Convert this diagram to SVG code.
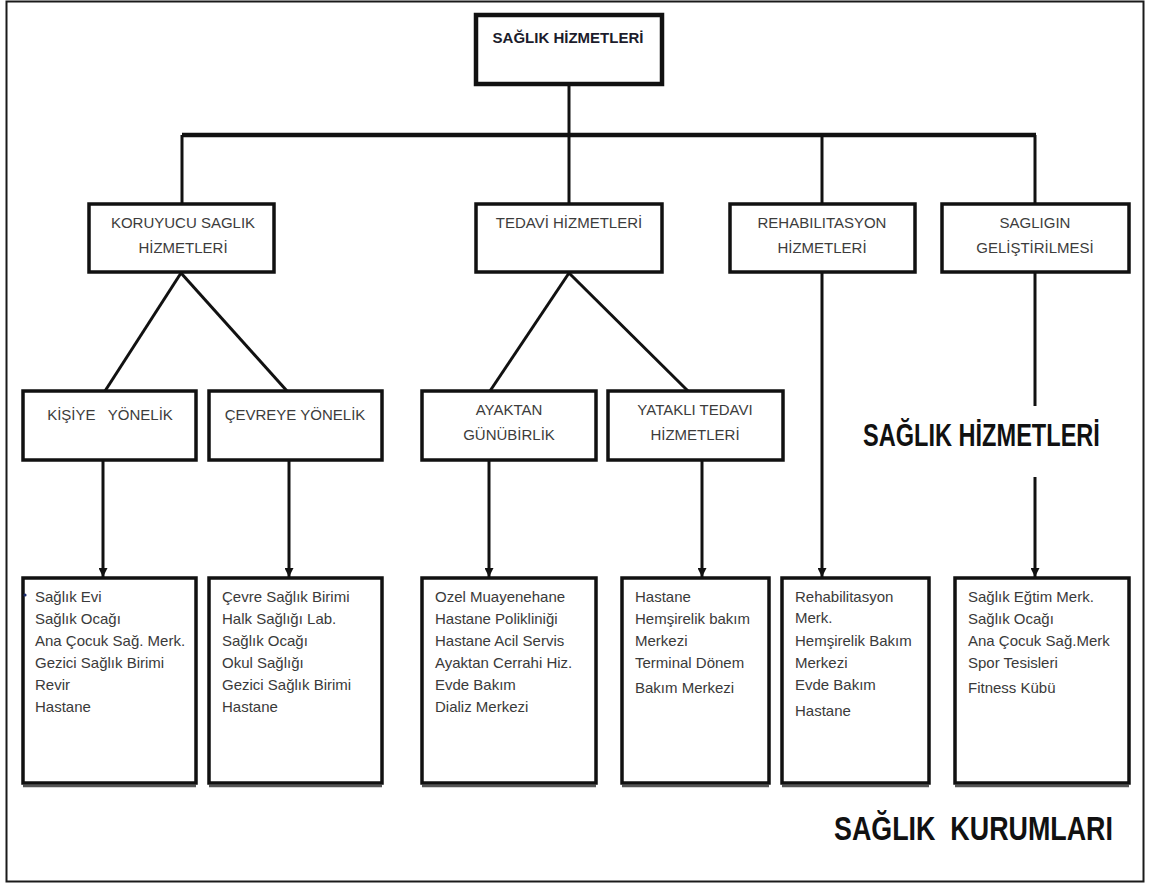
<svg xmlns="http://www.w3.org/2000/svg" width="1152" height="885" viewBox="0 0 1152 885">
<style>
  .frame{fill:#fff;stroke:#1a1a1a;stroke-width:2}
  .box{fill:#fff;stroke:#111;stroke-width:3.5}
  .shadow{fill:none;stroke:#555;stroke-width:2.5}
  .con{fill:none;stroke:#111;stroke-width:3}
  .bar{fill:none;stroke:#111;stroke-width:4.5}
  .lbl{font-family:"Liberation Sans",Arial,sans-serif;font-size:15px;fill:#3c3c3c;text-anchor:middle}
  .lst{font-family:"Liberation Sans",Arial,sans-serif;font-size:15px;fill:#3a3a3a}
  .ttl{font-family:"Liberation Sans",Arial,sans-serif;font-size:15px;font-weight:bold;fill:#1c1c2c;text-anchor:middle}
  .big{font-family:"Liberation Sans",Arial,sans-serif;font-weight:bold;fill:#111}
</style>
<defs>
  <marker id="arr" markerUnits="userSpaceOnUse" markerWidth="9" markerHeight="9" refX="9" refY="4.5" orient="auto">
    <path d="M0,0 L9,4.5 L0,9 z" fill="#111"/>
  </marker>
</defs>
<rect class="frame" x="6.5" y="1.5" width="1137" height="880"/>

<g id="connectors">
  <line class="con" x1="569" y1="85" x2="569" y2="135"/>
  <line class="bar" x1="182" y1="135" x2="1036" y2="135"/>
  <line class="con" x1="182" y1="135" x2="182" y2="204"/>
  <line class="con" x1="569" y1="135" x2="569" y2="204"/>
  <line class="con" x1="822" y1="135" x2="822" y2="204"/>
  <line class="con" x1="1035" y1="135" x2="1035" y2="204"/>
  <line class="con" x1="181" y1="273" x2="105" y2="391"/>
  <line class="con" x1="181" y1="273" x2="287" y2="391"/>
  <line class="con" x1="569" y1="273" x2="490" y2="391"/>
  <line class="con" x1="569" y1="273" x2="688" y2="391"/>
  <line class="con" x1="103" y1="460" x2="103" y2="577" marker-end="url(#arr)"/>
  <line class="con" x1="289" y1="460" x2="289" y2="577" marker-end="url(#arr)"/>
  <line class="con" x1="489" y1="460" x2="489" y2="577" marker-end="url(#arr)"/>
  <line class="con" x1="702" y1="460" x2="702" y2="577" marker-end="url(#arr)"/>
  <line class="con" x1="822" y1="273" x2="822" y2="577" marker-end="url(#arr)"/>
  <line class="con" x1="1035" y1="273" x2="1035" y2="406"/>
  <line class="con" x1="1035" y1="477" x2="1035" y2="577" marker-end="url(#arr)"/>
</g>

<g id="root">
  <rect class="box" x="476" y="15" width="186" height="69" style="stroke-width:4.5"/>
  <text class="ttl" x="568" y="43">SAĞLIK HİZMETLERİ</text>
</g>

<g id="koruyucu">
  <rect class="box" x="89" y="204" width="185" height="68"/>
  <text class="lbl" x="183" y="228">KORUYUCU SAGLIK</text>
  <text class="lbl" x="183" y="253">HİZMETLERİ</text>
</g>
<g id="tedavi">
  <rect class="box" x="476" y="204" width="186" height="68"/>
  <text class="lbl" x="569" y="228">TEDAVİ HİZMETLERİ</text>
</g>
<g id="rehab">
  <rect class="box" x="730" y="204" width="185" height="68"/>
  <text class="lbl" x="822" y="228">REHABILITASYON</text>
  <text class="lbl" x="822" y="253">HİZMETLERİ</text>
</g>
<g id="gelistirme">
  <rect class="box" x="942" y="204" width="187" height="68"/>
  <text class="lbl" x="1035" y="228">SAGLIGIN</text>
  <text class="lbl" x="1035" y="253">GELİŞTİRİLMESİ</text>
</g>

<g id="kisiye">
  <rect class="box" x="23" y="391" width="173" height="69"/>
  <text class="lbl" x="110" y="420" xml:space="preserve">KİŞİYE   YÖNELİK</text>
</g>
<g id="cevreye">
  <rect class="box" x="209" y="391" width="173" height="69"/>
  <text class="lbl" x="295" y="420">ÇEVREYE YÖNELİK</text>
</g>
<g id="ayaktan">
  <rect class="box" x="422" y="391" width="174" height="69"/>
  <text class="lbl" x="509" y="415">AYAKTAN</text>
  <text class="lbl" x="509" y="440">GÜNÜBİRLİK</text>
</g>
<g id="yatakli">
  <rect class="box" x="608" y="391" width="175" height="69"/>
  <text class="lbl" x="695" y="415">YATAKLI TEDAVI</text>
  <text class="lbl" x="695" y="440">HİZMETLERİ</text>
</g>

<g id="big-hizmetler">
  <text class="big" transform="translate(863,446) scale(0.7365,1)" x="0" y="0" font-size="32">SAĞLIK HİZMETLERİ</text>
</g>

<g id="list-kisiye">
  <line class="shadow" x1="23" y1="786" x2="196" y2="786"/>
  <rect class="box" x="23" y="578" width="173" height="205"/>
  <circle cx="25" cy="595" r="1.6" fill="#1a2a6a"/>
  <text class="lst" x="35" y="602">Sağlık Evi</text>
  <text class="lst" x="35" y="624">Sağlık Ocağı</text>
  <text class="lst" x="35" y="646">Ana Çocuk Sağ. Merk.</text>
  <text class="lst" x="35" y="668">Gezici Sağlık Birimi</text>
  <text class="lst" x="35" y="690">Revir</text>
  <text class="lst" x="35" y="712">Hastane</text>
</g>
<g id="list-cevreye">
  <line class="shadow" x1="209" y1="786" x2="382" y2="786"/>
  <rect class="box" x="209" y="578" width="173" height="205"/>
  <text class="lst" x="222" y="602">Çevre Sağlık Birimi</text>
  <text class="lst" x="222" y="624">Halk Sağlığı Lab.</text>
  <text class="lst" x="222" y="646">Sağlık Ocağı</text>
  <text class="lst" x="222" y="668">Okul Sağlığı</text>
  <text class="lst" x="222" y="690">Gezici Sağlık Birimi</text>
  <text class="lst" x="222" y="712">Hastane</text>
</g>
<g id="list-ayaktan">
  <line class="shadow" x1="422" y1="786" x2="596" y2="786"/>
  <rect class="box" x="422" y="578" width="174" height="205"/>
  <text class="lst" x="435" y="602">Ozel Muayenehane</text>
  <text class="lst" x="435" y="624">Hastane Polikliniği</text>
  <text class="lst" x="435" y="646">Hastane Acil Servis</text>
  <text class="lst" x="435" y="668">Ayaktan Cerrahi Hiz.</text>
  <text class="lst" x="435" y="690">Evde Bakım</text>
  <text class="lst" x="435" y="712">Dializ Merkezi</text>
</g>
<g id="list-yatakli">
  <line class="shadow" x1="622" y1="786" x2="769" y2="786"/>
  <rect class="box" x="622" y="578" width="147" height="205"/>
  <text class="lst" x="635" y="602">Hastane</text>
  <text class="lst" x="635" y="624">Hemşirelik bakım</text>
  <text class="lst" x="635" y="646">Merkezi</text>
  <text class="lst" x="635" y="668">Terminal Dönem</text>
  <text class="lst" x="635" y="693">Bakım Merkezi</text>
</g>
<g id="list-rehab">
  <line class="shadow" x1="782" y1="786" x2="929" y2="786"/>
  <rect class="box" x="782" y="578" width="147" height="205"/>
  <text class="lst" x="795" y="602">Rehabilitasyon</text>
  <text class="lst" x="795" y="623">Merk.</text>
  <text class="lst" x="795" y="646">Hemşirelik Bakım</text>
  <text class="lst" x="795" y="668">Merkezi</text>
  <text class="lst" x="795" y="690">Evde Bakım</text>
  <text class="lst" x="795" y="716">Hastane</text>
</g>
<g id="list-gelistirme">
  <line class="shadow" x1="955" y1="786" x2="1129" y2="786"/>
  <rect class="box" x="955" y="578" width="174" height="205"/>
  <text class="lst" x="968" y="602">Sağlık Eğtim Merk.</text>
  <text class="lst" x="968" y="624">Sağlık Ocağı</text>
  <text class="lst" x="968" y="646">Ana Çocuk Sağ.Merk</text>
  <text class="lst" x="968" y="668">Spor Tesisleri</text>
  <text class="lst" x="968" y="693">Fitness Kübü</text>
</g>

<g id="big-kurumlar">
  <text class="big" transform="translate(834,840) scale(0.814,1)" x="0" y="0" font-size="33" xml:space="preserve">SAĞLIK  KURUMLARI</text>
</g>
</svg>
